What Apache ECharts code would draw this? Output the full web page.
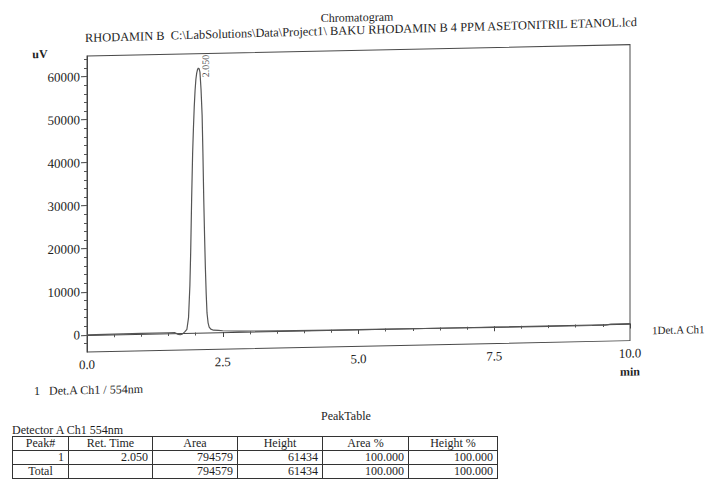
<!DOCTYPE html>
<html><head><meta charset="utf-8">
<script src="https://cdn.jsdelivr.net/npm/echarts@6/dist/echarts.min.js"></script>
<style>
html,body{margin:0;padding:0;background:#fff;width:708px;height:479px;overflow:hidden;}
#chart{position:absolute;left:0;top:0;width:708px;height:479px;transform:skewY(-1.2deg);transform-origin:87px 0;}
.txt{position:absolute;font-family:"Liberation Serif","DejaVu Serif",serif;font-size:12px;color:#1e1e1e;white-space:nowrap;line-height:14px;}
#tbl{position:absolute;left:12px;top:436px;border-collapse:collapse;font-family:"Liberation Serif","DejaVu Serif",serif;font-size:12px;color:#1e1e1e;table-layout:fixed;}
#tbl td{border:1px solid #333;height:13px;line-height:13px;padding:0 4px;overflow:hidden;white-space:nowrap;}
#tbl tr.h td{text-align:center;}
#tbl tr.d td{text-align:right;}
</style></head><body>
<div id="chart"></div>
<div class="txt" id="pt" style="left:321px;top:409px;">PeakTable</div>
<div class="txt" id="det" style="left:12px;top:423px;">Detector A Ch1 554nm</div>
<table id="tbl"></table>
<script>
// ---- data ----
const times  = [0.0, 0.5, 1.0, 1.5, 1.62, 1.68, 1.72, 1.76, 1.80, 1.84, 1.87, 1.895, 1.91, 1.927, 1.945, 1.96, 1.975, 1.99, 2.005, 2.02, 2.035, 2.05, 2.065, 2.08, 2.10, 2.12, 2.135, 2.15, 2.165, 2.18, 2.195, 2.21, 2.23, 2.25, 2.28, 2.33, 2.42, 2.5, 2.8, 3.5, 4.5, 5.5, 6.5, 7.5, 8.5, 9.3, 9.55, 9.65, 10.0];
const signal = [0, 30, 60, 80, 60, -350, -450, -250, 200, 800, 3500, 11000, 19000, 31000, 41500, 47500, 52500, 56200, 58800, 60300, 61100, 61434, 61300, 60500, 56500, 50500, 41500, 31000, 22500, 15000, 9000, 4500, 2200, 1200, 700, 450, 380, 280, 100, 0, -100, -150, -200, -250, -300, -300, -280, -80, -40];
const peakTime = 2.050;
const peakHeight = 61434;
const yTicks = [0, 10000, 20000, 30000, 40000, 50000, 60000];
const xTicks = [0, 2.5, 5.0, 7.5, 10.0];
const yMin = -4000, yMax = 64800;
const titleTop = 'Chromatogram';
const titleLine = 'RHODAMIN B  C:\\LabSolutions\\Data\\Project1\\ BAKU RHODAMIN B 4 PPM ASETONITRIL ETANOL.lcd';
const yUnit = 'uV';
const xUnit = 'min';
const traceName = '1Det.A Ch1';
const legendLine = '1   Det.A Ch1 / 554nm';
const tableHeaders = ['Peak#', 'Ret. Time', 'Area', 'Height', 'Area %', 'Height %'];
const tableRow1 = ['1', '2.050', '794579', '61434', '100.000', '100.000'];
const tableTotal = ['Total', '', '794579', '61434', '100.000', '100.000'];

// ---- table ----
const colW = [56, 84, 85, 85, 86, 89];
const tbl = document.getElementById('tbl');
const cg = document.createElement('colgroup');
colW.forEach(w => { const c = document.createElement('col'); c.style.width = w + 'px'; cg.appendChild(c); });
tbl.appendChild(cg);
function addRow(cells, cls, centerFirst) {
  const tr = document.createElement('tr'); tr.className = cls;
  cells.forEach((v, i) => { const td = document.createElement('td'); td.textContent = v; if (centerFirst && i === 0) td.style.textAlign = 'center'; tr.appendChild(td); });
  tbl.appendChild(tr);
}
addRow(tableHeaders, 'h');
addRow(tableRow1, 'd');
addRow(tableTotal, 'd', true);

// ---- chart ----
const serif = '"Liberation Serif","DejaVu Serif",serif';
const ink = '#1e1e1e';
const yMinor = [];
for (let v = -2000; v <= 64000; v += 2000) yMinor.push(v);

const chart = echarts.init(document.getElementById('chart'), null, {renderer: 'svg'});
chart.setOption({
  animation: false,
  grid: {left: 87, right: 78, top: 56, bottom: 127, show: true, borderColor: '#4a4a4a', borderWidth: 1, containLabel: false},
  xAxis: {
    type: 'value', min: xTicks[0], max: xTicks[xTicks.length - 1], interval: 2.5,
    axisLine: {show: true, lineStyle: {color: '#444', width: 1}},
    axisTick: {show: true, length: 5, lineStyle: {color: '#444'}},
    minorTick: {show: true, splitNumber: 5, length: 3, lineStyle: {color: '#555'}},
    axisLabel: {formatter: v => v.toFixed(1), fontFamily: serif, fontSize: 13, color: ink, margin: 6},
    splitLine: {show: false}, minorSplitLine: {show: false}
  },
  yAxis: [
    {
      type: 'value', min: yMin, max: yMax,
      axisLine: {show: true, lineStyle: {color: '#444', width: 1}},
      axisTick: {show: true, length: 6, customValues: yTicks, lineStyle: {color: '#444'}},
      axisLabel: {customValues: yTicks, formatter: v => String(v), fontFamily: serif, fontSize: 13, color: ink, margin: 7},
      splitLine: {show: false}
    },
    {
      type: 'value', min: yMin, max: yMax, position: 'left', offset: 0,
      axisLine: {show: false}, axisLabel: {show: false},
      axisTick: {show: true, length: 3, customValues: yMinor, lineStyle: {color: '#555'}},
      splitLine: {show: false}
    }
  ],
  series: [
    {
      type: 'line', data: times.map((t, i) => [t, signal[i]]), symbol: 'none', showSymbol: false,
      lineStyle: {color: '#555', width: 1.2}, z: 3,
      endLabel: {show: true, formatter: traceName, distance: 22, offset: [0, 7], fontFamily: serif, fontSize: 11, color: ink}
    },
    {
      type: 'scatter', data: [[peakTime, peakHeight]], symbolSize: 0, silent: true,
      label: {show: true, formatter: peakTime.toFixed(3), rotate: 90, position: [7, -2], align: 'center', verticalAlign: 'middle', fontFamily: serif, fontSize: 10, color: ink}
    }
  ],
  graphic: [
    {type: 'text', x: 357, y: 23, style: {text: titleTop, font: '12px ' + serif, fill: ink, align: 'center', verticalAlign: 'middle', textAlign: 'center', textVerticalAlign: 'middle'}},
    {type: 'text', x: 85, y: 38, rotation: 0.008, style: {text: titleLine, font: '12.4px ' + serif, fill: ink, align: 'left', verticalAlign: 'middle', textAlign: 'left', textVerticalAlign: 'middle'}},
    {type: 'text', x: 40, y: 53, style: {text: yUnit, font: 'bold 12px ' + serif, fill: ink, align: 'center', verticalAlign: 'middle', textAlign: 'center', textVerticalAlign: 'middle'}},
    {type: 'text', x: 630, y: 383, style: {text: xUnit, font: 'bold 12px ' + serif, fill: ink, align: 'center', verticalAlign: 'middle', textAlign: 'center', textVerticalAlign: 'middle'}},
    {type: 'text', x: 34, y: 390, style: {text: legendLine, font: '12px ' + serif, fill: ink, align: 'left', verticalAlign: 'middle', textAlign: 'left', textVerticalAlign: 'middle'}}
  ]
});
</script>
</body></html>
